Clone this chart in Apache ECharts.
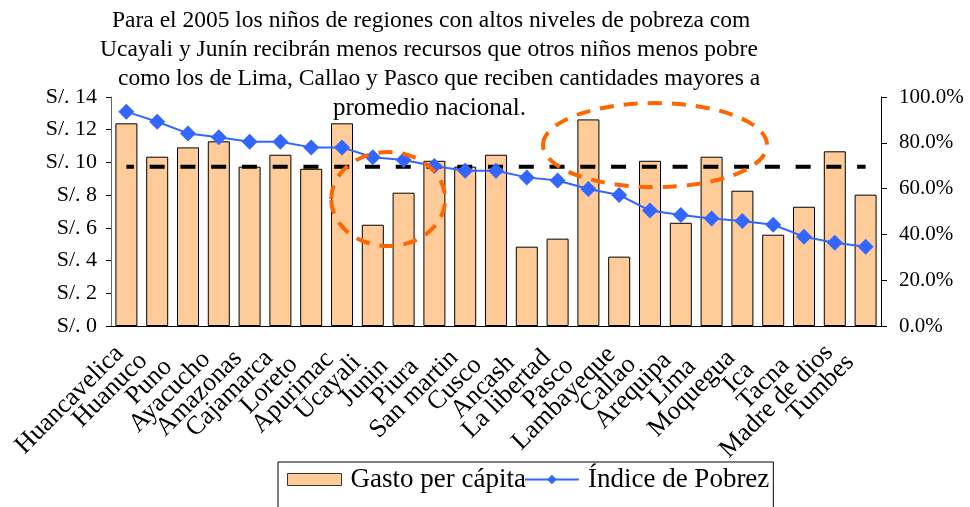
<!DOCTYPE html>
<html lang="es">
<head>
    <meta charset="utf-8">
    <title>Gasto per cápita e Índice de Pobreza</title>
    <script src="https://cdn.jsdelivr.net/npm/echarts@6/dist/echarts.min.js"></script>
    <style type="text/css">
    html, body { margin: 0; padding: 0; background: #fff; }
    #main { width: 970px; height: 507px; }
    </style>
</head>
<body>
    <div id="main"></div>
    <script type="text/javascript">
    // regiones, ordenadas por índice de pobreza
    var regiones = ['Huancavelica', 'Huanuco', 'Puno', 'Ayacucho', 'Amazonas', 'Cajamarca', 'Loreto',
        'Apurimac', 'Ucayali', 'Junin', 'Piura', 'San martin', 'Cusco', 'Ancash', 'La libertad', 'Pasco',
        'Lambayeque', 'Callao', 'Arequipa', 'Lima', 'Moquegua', 'Ica', 'Tacna', 'Madre de dios', 'Tumbes'];

    // gasto per cápita (S/.)
    var gasto = [12.39, 10.35, 10.92, 11.29, 9.74, 10.47, 9.61, 12.39, 6.19, 8.15, 10.10, 9.74, 10.47,
        4.85, 5.34, 12.63, 4.24, 10.10, 6.31, 10.35, 8.27, 5.58, 7.29, 10.68, 8.03];

    // índice de pobreza (%)
    var pobreza = [93.6, 89.2, 84.1, 82.4, 80.5, 80.5, 78.0, 78.0, 73.7, 72.5, 69.9, 67.8, 67.8,
        64.9, 63.5, 59.8, 57.2, 50.4, 48.5, 46.9, 45.9, 44.2, 39.0, 36.4, 34.6];

    // promedio nacional (S/.)
    var promedioNacional = 9.74;

    var titulo = [
        'Para el 2005 los niños de regiones con altos niveles de pobreza com',
        'Ucayali y Junín recibrán menos recursos que otros niños menos pobre',
        'como los de Lima, Callao y Pasco que reciben cantidades mayores a',
        'promedio nacional.'
    ];

    var serif = '"Liberation Serif", "DejaVu Serif", serif';
    var labelSize = 26;
    var chart = echarts.init(document.getElementById('main'), null, { renderer: 'canvas' });

    // desplazamiento de las etiquetas giradas (como en Excel, las cortas quedan más abajo)
    var ctx = document.createElement('canvas').getContext('2d');
    ctx.font = labelSize + 'px ' + serif;
    var rich = {};
    regiones.forEach(function (r, i) {
        var w = ctx.measureText(r).width;
        var p = Math.max(0, (28 - 0.15 * w) * 1.414);
        rich['r' + i] = { fontSize: labelSize, fontFamily: serif, color: '#000', padding: [0, p, 0, 0] };
    });

    var option = {
        animation: false,
        textStyle: { fontFamily: serif },
        grid: { left: 111, right: 89, top: 97, bottom: 181 },
        legend: {
            data: [
                { name: 'Gasto per cápita', icon: 'rect', itemStyle: { borderWidth: 1, borderColor: '#333' } },
                { name: 'Índice de Pobreza' }
            ],
            left: 278, top: 462,
            padding: [4, 4, 40, 9],
            borderColor: '#000', borderWidth: 1,
            itemGap: -2,
            itemWidth: 54, itemHeight: 12,
            textStyle: { fontFamily: serif, fontSize: 27, color: '#000', padding: [0, 0, 0, 4] },
            formatter: function (name) {
                return name === 'Índice de Pobreza' ? 'Índice de Pobrez' : name;
            }
        },
        xAxis: {
            type: 'category',
            data: regiones,
            axisLine: { lineStyle: { color: '#000' } },
            axisTick: { length: 6, lineStyle: { color: '#000' } },
            axisLabel: {
                rotate: 45, interval: 0, fontSize: labelSize, color: '#000', fontFamily: serif, margin: 17,
                formatter: function (v, i) { return '{r' + i + '|' + v + '}'; },
                rich: rich
            }
        },
        yAxis: [{
            type: 'value', min: 0, max: 14, interval: 2,
            splitLine: { show: false },
            axisLine: { show: true, lineStyle: { color: '#666' } },
            axisTick: { show: true, length: 5, lineStyle: { color: '#000' } },
            axisLabel: { formatter: 'S/. {value}', fontSize: 22, color: '#000', fontFamily: serif, margin: 14 }
        }, {
            type: 'value', min: 0, max: 100, interval: 20,
            splitLine: { show: false },
            axisLine: { show: true, lineStyle: { color: '#000' } },
            axisTick: { show: true, length: 6, lineStyle: { color: '#000' } },
            axisLabel: {
                formatter: function (v) { return v.toFixed(1) + '%'; },
                fontSize: 21, color: '#000', fontFamily: serif, margin: 18
            }
        }],
        series: [{
            name: 'Gasto per cápita',
            type: 'bar',
            data: gasto,
            barWidth: 22,
            itemStyle: { color: '#FFCC99', borderColor: '#000', borderWidth: 1 }
        }, {
            name: 'promedio',
            type: 'line',
            data: regiones.map(function () { return promedioNacional; }),
            symbol: 'none',
            z: 3,
            lineStyle: { color: '#000', width: 4, type: [15, 15.76], dashOffset: 7.5 }
        }, {
            name: 'Índice de Pobreza',
            type: 'line',
            yAxisIndex: 1,
            data: pobreza,
            symbol: 'diamond',
            symbolSize: 16,
            z: 4,
            itemStyle: { color: '#3366FF' },
            lineStyle: { color: '#3366FF', width: 2 }
        }]
    };
    chart.setOption(option);

    // título y elipses de anotación
    var graficos = [];
    var titleX = [112, 100, 118, 333];
    var titleSize = [23.5, 23.5, 23.5, 25];
    titulo.forEach(function (t, i) {
        graficos.push({
            type: 'text', left: titleX[i], top: 9 + i * 29, z: 10,
            style: { text: t, fontFamily: serif, fontSize: titleSize[i], fill: '#000',
                width: 762 - titleX[i], overflow: 'truncate', ellipsis: '' }
        });
    });
    var a = chart.convertToPixel({ xAxisIndex: 0, yAxisIndex: 0 }, ['Ucayali', 7.76]);
    var b = chart.convertToPixel({ xAxisIndex: 0, yAxisIndex: 0 }, ['Junin', 7.76]);
    var c = chart.convertToPixel({ xAxisIndex: 0, yAxisIndex: 0 }, ['Callao', 11.06]);
    var elipse = { fill: 'none', stroke: '#FF6600', lineWidth: 4, lineDash: [14, 10] };
    graficos.push({ type: 'ellipse', z: 5, shape: { cx: (a[0] + b[0]) / 2, cy: a[1], rx: 57, ry: 47 }, style: elipse });
    graficos.push({ type: 'ellipse', z: 5, shape: { cx: c[0] + 5, cy: c[1], rx: 112, ry: 42 }, style: elipse });
    chart.setOption({ graphic: graficos });
    </script>
</body>
</html>
